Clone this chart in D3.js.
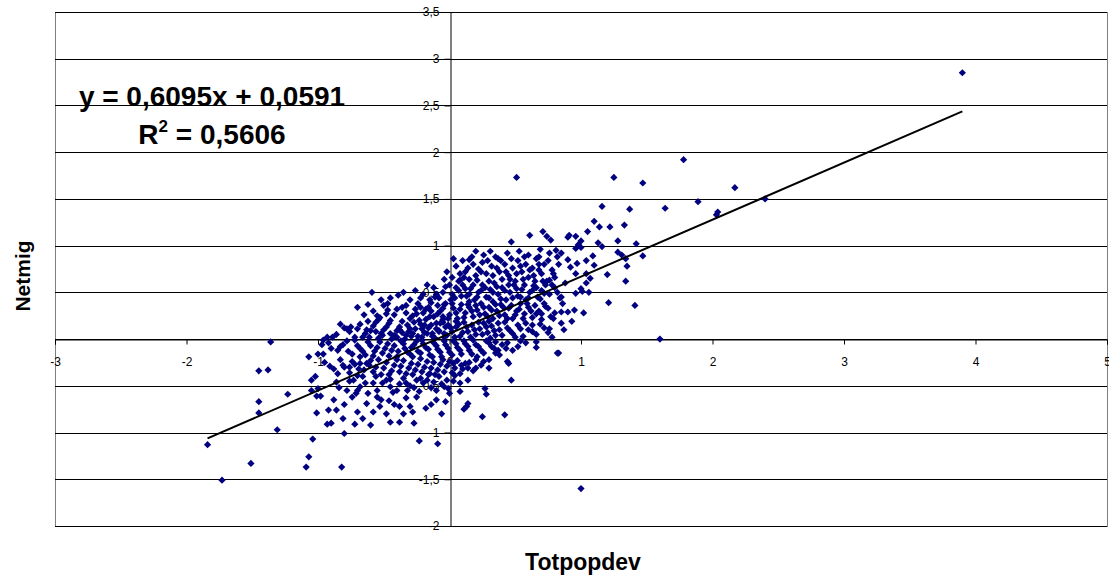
<!DOCTYPE html>
<html>
<head>
<meta charset="utf-8">
<script src="https://cdn.jsdelivr.net/npm/d3@7"></script>
<style>
  body { margin: 0; background: #fff; }
  svg { display: block; }
  text { font-family: Arial, "Liberation Sans", sans-serif; }
</style>
</head>
<body>
<svg id="chart" width="1109" height="577"></svg>
<script>
// Axis ticks
const xTicks = [-3, -2, -1, 0, 1, 2, 3, 4, 5];
const yTicks = [-2, -1.5, -1, -0.5, 0, 0.5, 1, 1.5, 2, 2.5, 3, 3.5];

// Linear trend fitted in the workbook
const slope = 0.6095;
const intercept = 0.0591;
const rSquared = 0.5606;

// Observations: [Totpopdev, Netmig]
const upperTail = [
  [3.90,2.85],[1.78,1.92],[2.17,1.62],[2.40,1.50],[2.04,1.36],[2.03,1.33],[1.89,1.47],[1.64,1.40],
  [1.47,1.67],[1.25,1.73],[0.51,1.73],[1.16,1.42],[1.37,1.39],[1.10,1.26],[1.14,1.20],[1.22,1.20],
  [1.33,1.22],[1.05,1.15],[0.96,1.10],[0.90,1.09],[0.91,1.11],[1.00,1.05],[0.98,1.01],[0.96,0.97],
  [1.00,0.98],[1.13,1.03],[1.16,0.99],[1.28,1.05],[1.42,1.02],[1.28,0.93],[1.31,0.90],[1.34,0.86],
  [1.47,0.89],[1.35,0.78],[1.09,0.89],[1.04,0.84],[0.90,0.85],[0.85,0.92],[0.97,0.81],[0.92,0.77],
  [1.10,0.79],[1.20,0.69],[1.34,0.62],[1.21,0.39],[1.41,0.36],[1.60,0.00],[1.06,0.50],[1.04,0.60],
  [1.07,0.65],[1.00,0.54],[1.01,0.51],[0.96,0.49],[1.02,0.28],[0.95,0.31],[0.90,0.29],[0.93,0.19],
  [0.85,0.29],[0.86,0.38],[0.85,0.45],[0.85,0.17],[0.87,0.10],[0.96,0.70],[1.04,0.70],[0.88,0.60],
  [0.83,-0.15],[1.00,-1.60],
  [0.47,1.04],[0.61,1.11],[0.71,1.15],[0.74,1.10],[0.77,1.06],[0.15,0.85],[0.37,0.86],[0.68,0.88],
  [0.76,0.92],[0.81,0.95],[0.08,0.63],[0.68,0.74],[0.76,0.63],[0.73,0.35],[0.77,0.24],[0.76,0.11],
  [0.63,0.15],[0.66,0.27]
];

const lowerRight = [
  [0.47,-0.44],[0.42,-0.81],[0.25,-0.83],[0.27,-0.53],[0.28,-0.59],[0.14,-0.69],[0.13,-0.72],[0.11,-0.75],
  [0.08,-0.56],[0.08,-0.47],[0.14,-0.44],[0.04,-0.39],[0.20,-0.31],[0.30,-0.31],[0.44,-0.24],[0.45,-0.26],
  [0.35,-0.15],[0.38,-0.17],[0.66,-0.09],[0.66,-0.03],[0.82,-0.15],[0.54,-0.02],[0.43,-0.10],[0.35,-0.03],
  [0.09,-0.28],[0.14,-0.31],[0.03,-0.26],[0.21,-0.19],[0.20,-0.22]
];

const lowerLeft = [
  [-1.36,-0.03],[-0.96,-0.01],[-0.97,-0.06],[-0.93,0.02],[-1.07,-0.19],[-1.00,-0.16],[-1.45,-0.34],[-1.38,-0.33],
  [-1.02,-0.40],[-1.84,-1.13],[-1.73,-1.51],[-1.51,-1.33],[-1.31,-0.97],[-1.45,-0.67],[-1.45,-0.79],[-1.23,-0.59],
  [-1.05,-0.55],[-1.00,-0.53],[-1.01,-0.61],[-0.98,-0.61],[-1.01,-0.79],[-1.04,-1.07],[-1.07,-1.26],[-1.09,-1.37],
  [-0.92,-0.76],[-0.93,-0.91],[-1.05,-0.44],
  [-0.83,-0.08],[-0.88,-0.65],[-0.86,-0.76],[-0.81,-0.85],[-0.74,-0.62],[-0.71,-0.58],[-0.63,-0.69],[-0.53,-0.72],
  [-0.52,-0.65],[-0.38,-0.72],[-0.35,-0.80],[-0.30,-0.72],[-0.03,-0.67],[-0.04,-0.51],[-0.76,-0.30],[-0.81,-0.28],
  [-0.68,-0.26],[-0.61,-0.28],[-0.56,-0.40],[-0.51,-0.47],[-0.45,-0.51],[-0.40,-0.55],[-0.33,-0.47],[-0.32,-0.55],
  [-0.25,-0.44],[-0.20,-0.47],[-0.15,-0.37],[-0.08,-0.40],[-0.66,-0.40],[-0.73,-0.44],[-0.86,-0.46],[-0.68,-0.51],
  [-0.58,-0.47],
  [-0.72,-0.91],[-0.80,-1.01],[-0.82,-1.37],[-0.45,-0.89],[-0.38,-0.89],[-0.27,-0.90],[-0.23,-1.09],[-0.09,-1.12],
  [-0.90,-0.90]
];

const upperLeft = [
  [-0.59,0.50],[-0.39,0.47],[-0.62,0.37],[-0.47,0.31],[-0.48,0.27],[-0.53,0.23],[-0.54,0.21],[-0.78,0.11],
  [-0.75,0.13],[-0.63,0.10],[-0.33,0.28],[-0.26,0.32],[-0.25,0.27],[-0.18,0.32],[-0.14,0.39],[-0.11,0.45],
  [-0.09,0.36],[-0.04,0.37],[-0.89,0.02],[-0.56,0.08],[-0.45,0.06],[-0.38,0.10],[-0.30,0.11],[-0.23,0.20],
  [-0.19,0.15],[-0.15,0.24],[-0.10,0.17],[-0.05,0.24],[-0.03,0.13],[-0.40,0.02],[-0.33,0.04],[-0.28,0.06],
  [-0.61,0.02],[-0.51,0.04],[-0.21,0.02],[-0.13,0.06],[-0.08,0.08],[-0.04,0.02]
];

// Dense centre of the cloud, band by band from top to bottom
const coreHigh = [
  [0.05,0.78],[0.10,0.84],[0.12,0.72],[0.18,0.80],[0.22,0.75],[0.25,0.82],[0.28,0.70],[0.32,0.78],
  [0.35,0.88],[0.38,0.72],[0.42,0.80],[0.45,0.68],[0.48,0.76],[0.52,0.84],[0.55,0.72],[0.58,0.80],
  [0.60,0.66],[0.63,0.76],[0.66,0.86],[0.70,0.70],[0.72,0.80],[0.78,0.74],[0.80,0.66],[0.83,0.80],
  [0.02,0.66],[0.15,0.64],[0.20,0.68],[0.30,0.62],[0.40,0.64],[0.50,0.62],[0.56,0.64],[0.65,0.62],
  [0.74,0.62],[-0.02,0.72],[0.08,0.70],[0.26,0.90],[0.44,0.92],[0.60,0.90],
  [0.03,0.86],[0.07,0.62],[0.14,0.76],[0.17,0.88],[0.21,0.63],[0.24,0.72],[0.29,0.84],[0.33,0.68],
  [0.36,0.76],[0.39,0.84],[0.43,0.72],[0.47,0.86],[0.51,0.70],[0.54,0.78],[0.57,0.88],[0.61,0.74],
  [0.64,0.68],[0.68,0.80],[0.71,0.62],[0.75,0.84],[0.79,0.70],[0.82,0.88],[-0.04,0.64],[0.11,0.66],
  [0.46,0.64],[0.53,0.94],[0.69,0.96],[0.31,0.94],[0.20,0.94],
  [-0.30,0.42],[-0.20,0.48],[-0.12,0.55],[-0.05,0.50],[0.00,0.58],[0.04,0.44],[0.07,0.52],[0.10,0.58],
  [0.13,0.46],[0.16,0.54],[0.19,0.42],[0.22,0.50],[0.25,0.58],[0.28,0.45],[0.31,0.53],[0.34,0.60],
  [0.37,0.48],[0.40,0.55],[0.43,0.42],[0.46,0.50],[0.49,0.58],[0.52,0.46],[0.55,0.53],[0.58,0.42],
  [0.61,0.50],[0.64,0.57],[0.67,0.45],[0.70,0.52],[0.73,0.58],[0.76,0.48],[0.80,0.55],[0.84,0.44],
  [-0.15,0.42],[-0.08,0.44],[0.02,0.48],
  [-0.26,0.52],[-0.22,0.44],[-0.17,0.58],[-0.10,0.48],[-0.03,0.56],[0.01,0.42],[0.05,0.55],[0.09,0.46],
  [0.12,0.54],[0.15,0.48],[0.18,0.58],[0.21,0.45],[0.24,0.52],[0.27,0.55],[0.30,0.44],[0.33,0.50],
  [0.36,0.56],[0.39,0.43],[0.42,0.52],[0.45,0.58],[0.48,0.44],[0.51,0.54],[0.54,0.45],[0.57,0.58],
  [0.60,0.44],[0.63,0.52],[0.66,0.55],[0.69,0.43],[0.72,0.49],[0.78,0.58],[0.82,0.50],[-0.35,0.50],
  [-0.45,0.44],[-0.52,0.42]
];

const coreMid = [
  [-0.58,0.30],[-0.50,0.36],[-0.42,0.26],[-0.36,0.34],[-0.30,0.22],[-0.24,0.38],[-0.20,0.28],[-0.16,0.34],
  [-0.12,0.24],[-0.07,0.30],[-0.03,0.38],[0.00,0.26],[0.03,0.33],[0.06,0.22],[0.09,0.37],[0.12,0.28],
  [0.15,0.34],[0.18,0.24],[0.21,0.31],[0.24,0.38],[0.27,0.27],[0.30,0.34],[0.33,0.22],[0.36,0.30],
  [0.39,0.37],[0.42,0.26],[0.45,0.33],[0.48,0.22],[0.51,0.30],[0.54,0.38],[0.57,0.27],[0.60,0.34],
  [0.63,0.23],[0.68,0.30],[0.72,0.38],[0.80,0.28],[0.70,0.21],[-0.45,0.20],[-0.05,0.21],[0.15,0.40],
  [0.33,0.40],
  [-0.55,0.25],[-0.47,0.38],[-0.40,0.32],[-0.33,0.36],[-0.28,0.25],[-0.22,0.34],[-0.18,0.21],[-0.14,0.30],
  [-0.09,0.27],[-0.05,0.33],[-0.01,0.22],[0.02,0.38],[0.05,0.28],[0.08,0.32],[0.11,0.23],[0.14,0.37],
  [0.17,0.30],[0.20,0.36],[0.23,0.26],[0.26,0.34],[0.29,0.24],[0.32,0.31],[0.35,0.37],[0.38,0.25],
  [0.41,0.34],[0.44,0.22],[0.47,0.36],[0.50,0.26],[0.53,0.32],[0.56,0.22],[0.59,0.38],[0.62,0.30],
  [0.65,0.36],[0.70,0.27],[0.75,0.33],[0.79,0.22],[-0.65,0.26],[-0.70,0.34],
  [-0.86,0.05],[-0.80,0.12],[-0.72,0.02],[-0.68,0.16],[-0.64,0.06],[-0.58,0.14],[-0.54,0.01],[-0.50,0.10],
  [-0.46,0.17],[-0.42,0.04],[-0.38,0.13],[-0.34,0.00],[-0.31,0.08],[-0.27,0.18],[-0.24,0.03],[-0.21,0.11],
  [-0.17,0.06],[-0.14,0.15],[-0.11,0.01],[-0.08,0.09],[-0.05,0.18],[-0.02,0.04],[0.01,0.12],[0.04,0.02],
  [0.07,0.16],[0.10,0.07],[0.13,0.13],[0.16,0.02],[0.19,0.10],[0.22,0.18],[0.25,0.05],[0.28,0.13],
  [0.31,0.01],[0.34,0.09],[0.37,0.17],[0.40,0.04],[0.44,0.12],[0.48,0.06],[0.52,0.15],[0.56,0.03],
  [0.60,0.10],[0.66,0.05],[0.72,0.12],[0.78,0.02],[-0.62,0.19],[-0.36,0.19],[0.05,0.19],[0.30,0.19],
  [-0.83,0.16],[-0.76,0.08],[-0.70,0.11],[-0.66,0.02],[-0.60,0.09],[-0.56,0.18],[-0.52,0.06],[-0.48,0.13],
  [-0.44,0.00],[-0.40,0.09],[-0.36,0.07],[-0.32,0.15],[-0.29,0.03],[-0.26,0.11],[-0.22,0.16],[-0.19,0.07],
  [-0.16,0.12],[-0.13,0.03],[-0.10,0.11],[-0.07,0.17],[-0.04,0.06],[-0.01,0.15],[0.02,0.08],[0.05,0.13],
  [0.08,0.03],[0.11,0.18],[0.14,0.08],[0.17,0.15],[0.20,0.05],[0.23,0.11],[0.26,0.17],[0.29,0.07],
  [0.32,0.14],[0.35,0.04],[0.38,0.10],[0.42,0.18],[0.46,0.09],[0.50,0.02],[0.54,0.11],[0.58,0.17],
  [0.63,0.08],[0.69,0.16],[0.75,0.07]
];

const coreLow = [
  [-0.92,-0.04],[-0.85,-0.12],[-0.78,-0.02],[-0.74,-0.16],[-0.70,-0.07],[-0.66,-0.13],[-0.62,-0.03],[-0.58,-0.18],
  [-0.55,-0.09],[-0.51,-0.15],[-0.47,-0.05],[-0.44,-0.12],[-0.40,-0.19],[-0.37,-0.02],[-0.34,-0.10],[-0.30,-0.16],
  [-0.27,-0.06],[-0.24,-0.13],[-0.21,-0.01],[-0.18,-0.09],[-0.15,-0.17],[-0.12,-0.04],[-0.09,-0.11],[-0.06,-0.19],
  [-0.03,-0.06],[0.00,-0.14],[0.03,-0.02],[0.06,-0.09],[0.09,-0.16],[0.12,-0.05],[0.15,-0.12],[0.18,-0.01],
  [0.22,-0.08],[0.26,-0.15],[0.30,-0.04],[0.34,-0.10],[0.40,-0.06],[0.48,-0.12],[0.58,-0.04],[-0.68,-0.19],
  [-0.96,-0.16],[-0.28,-0.19],
  [-0.90,-0.10],[-0.81,-0.06],[-0.77,-0.13],[-0.72,-0.01],[-0.68,-0.10],[-0.64,-0.17],[-0.60,-0.07],[-0.57,-0.13],
  [-0.53,-0.03],[-0.49,-0.10],[-0.46,-0.18],[-0.42,-0.07],[-0.39,-0.13],[-0.35,-0.05],[-0.32,-0.14],[-0.29,-0.09],
  [-0.25,-0.02],[-0.22,-0.15],[-0.20,-0.05],[-0.16,-0.11],[-0.13,-0.19],[-0.10,-0.07],[-0.07,-0.14],[-0.04,-0.02],
  [-0.01,-0.10],[0.02,-0.17],[0.05,-0.05],[0.08,-0.12],[0.11,-0.02],[0.14,-0.08],[0.17,-0.16],[0.20,-0.06],
  [0.24,-0.12],[0.28,-0.02],[0.32,-0.08],[0.37,-0.12],[0.44,-0.04],[0.52,-0.08],
  [-0.95,-0.25],[-0.88,-0.32],[-0.83,-0.22],[-0.76,-0.36],[-0.72,-0.27],[-0.65,-0.33],[-0.60,-0.23],[-0.56,-0.30],
  [-0.52,-0.38],[-0.48,-0.25],[-0.44,-0.34],[-0.40,-0.22],[-0.37,-0.29],[-0.33,-0.37],[-0.29,-0.26],[-0.26,-0.33],
  [-0.22,-0.21],[-0.19,-0.30],[-0.16,-0.38],[-0.12,-0.25],[-0.09,-0.33],[-0.05,-0.22],[-0.02,-0.29],[0.02,-0.36],
  [0.06,-0.23],[0.10,-0.32],[0.15,-0.25],[0.24,-0.28],[0.30,-0.22],[-0.70,-0.39],
  [-0.91,-0.29],[-0.85,-0.37],[-0.80,-0.30],[-0.74,-0.24],[-0.69,-0.32],[-0.63,-0.26],[-0.58,-0.35],[-0.54,-0.22],
  [-0.50,-0.31],[-0.46,-0.38],[-0.42,-0.28],[-0.38,-0.35],[-0.35,-0.23],[-0.31,-0.31],[-0.28,-0.38],[-0.24,-0.27],
  [-0.21,-0.35],[-0.17,-0.24],[-0.14,-0.31],[-0.11,-0.38],[-0.07,-0.27],[-0.04,-0.35],[0.00,-0.24],[0.04,-0.31],
  [0.08,-0.37],[0.12,-0.26],[0.18,-0.34],[0.26,-0.24],
  [-0.45,-0.43],[-0.38,-0.48],[-0.27,-0.52],[-0.22,-0.42],[-0.12,-0.46],[-0.10,-0.55],[-0.02,-0.44],[0.00,-0.58],
  [-0.78,-0.55],[-0.62,-0.58],[-0.58,-0.78],[-0.46,-0.66],[-0.25,-0.62],[-0.18,-0.74],[-0.10,-0.65],
  [-0.84,-0.52],[-0.76,-0.45],[-0.70,-0.55],[-0.64,-0.47],[-0.55,-0.55],[-0.48,-0.44],[-0.43,-0.57],[-0.35,-0.42],
  [-0.30,-0.50],[-0.23,-0.56],[-0.17,-0.44],[-0.14,-0.52],[-0.06,-0.48],[-0.01,-0.53],[0.03,-0.45],
  [-0.80,-0.70],[-0.70,-0.78],[-0.66,-0.85],[-0.55,-0.62],[-0.48,-0.80],[-0.42,-0.70],[-0.33,-0.63],[-0.28,-0.78],
  [-0.14,-0.70],[-0.06,-0.80],[-0.60,-0.92]
];

const points = [].concat(upperTail, lowerRight, lowerLeft, upperLeft, coreHigh, coreMid, coreLow);

const svg = d3.select("#chart");
const plot = { left: 55, right: 1107, top: 12, bottom: 526 };

const x = d3.scaleLinear().domain([-3, 5]).range([plot.left, plot.right]);
const y = d3.scaleLinear().domain([-2, 3.5]).range([plot.bottom, plot.top]);

const fmt = v => String(v).replace(".", ",");

// Plot area frame
svg.append("rect")
  .attr("x", plot.left + 0.5).attr("y", plot.top + 0.5)
  .attr("width", plot.right - plot.left).attr("height", plot.bottom - plot.top)
  .attr("fill", "none").attr("stroke", "#808080").attr("stroke-width", 1);

// Horizontal gridlines
svg.append("g").selectAll("line")
  .data(yTicks)
  .join("line")
  .attr("x1", plot.left).attr("x2", plot.right)
  .attr("y1", d => Math.round(y(d)) + 0.5).attr("y2", d => Math.round(y(d)) + 0.5)
  .attr("stroke", "#000").attr("stroke-width", 1);

// Vertical value axis through x = 0
const yAxis = d3.axisLeft(y).tickValues(yTicks.filter(d => d !== 0)).tickFormat(fmt).tickSize(6).tickPadding(5);
const gy = svg.append("g").attr("transform", `translate(${Math.round(x(0)) + 0.5},0)`).call(yAxis);
gy.select(".domain").attr("stroke", "#000");
gy.selectAll(".tick line").attr("stroke", "#000");
gy.selectAll(".tick text").attr("font-size", 12).attr("fill", "#000").attr("font-family", "Arial, 'Liberation Sans', sans-serif");

// Horizontal axis through y = 0
const xAxis = d3.axisBottom(x).tickValues(xTicks).tickFormat(fmt).tickSize(5).tickPadding(13);
const gx = svg.append("g").attr("transform", `translate(0,${Math.round(y(0)) + 0.5})`).call(xAxis);
gx.select(".domain").attr("stroke", "#000");
gx.selectAll(".tick line").attr("stroke", "#000");
gx.selectAll(".tick text").attr("font-size", 12).attr("fill", "#000").attr("font-family", "Arial, 'Liberation Sans', sans-serif");

// Markers
const diamond = "M0,-3.6L3.6,0L0,3.6L-3.6,0Z";
svg.append("g").selectAll("path")
  .data(points)
  .join("path")
  .attr("d", diamond)
  .attr("transform", d => `translate(${x(d[0])},${y(d[1])})`)
  .attr("fill", "#000080");

// Trend line across the observed range
const xExtent = d3.extent(points, d => d[0]);
svg.append("line")
  .attr("x1", x(xExtent[0])).attr("y1", y(slope * xExtent[0] + intercept))
  .attr("x2", x(xExtent[1])).attr("y2", y(slope * xExtent[1] + intercept))
  .attr("stroke", "#000").attr("stroke-width", 2);

// Equation label
svg.append("text")
  .attr("x", 212).attr("y", 106)
  .attr("text-anchor", "middle")
  .attr("font-size", 28).attr("font-weight", "bold")
  .text(`y = ${fmt(slope)}x + ${fmt(intercept)}`);

const r2 = svg.append("text")
  .attr("x", 212).attr("y", 144)
  .attr("text-anchor", "middle")
  .attr("font-size", 28).attr("font-weight", "bold");
r2.append("tspan").text("R");
r2.append("tspan").attr("font-size", 17).attr("dy", -12).text("2");
r2.append("tspan").attr("dy", 12).text(` = ${fmt(rSquared)}`);

// Axis titles
svg.append("text")
  .attr("x", 583).attr("y", 570)
  .attr("text-anchor", "middle")
  .attr("font-size", 23).attr("font-weight", "bold")
  .text("Totpopdev");

svg.append("text")
  .attr("transform", "translate(30,276) rotate(-90)")
  .attr("text-anchor", "middle")
  .attr("font-size", 21).attr("font-weight", "bold")
  .text("Netmig");
</script>
</body>
</html>
